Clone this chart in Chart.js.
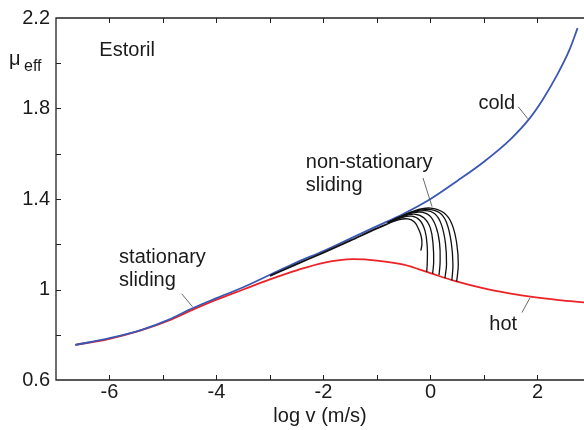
<!DOCTYPE html>
<html>
<head>
<meta charset="utf-8">
<title>Estoril friction</title>
<script src="https://cdn.jsdelivr.net/npm/chart.js@4"></script>
<style>
  html, body { margin: 0; padding: 0; background: #fff; }
  #wrap { width: 584px; height: 430px; }
</style>
</head>
<body>
<div id="wrap"><canvas id="muChart" width="584" height="430"></canvas></div>
<script>
// cold branch (blue)
const coldLogV = [-6.64, -6.0, -5.4, -4.9, -4.45, -4.0, -3.5, -3.0, -2.5, -2.0, -1.5, -1.0, -0.5, 0.0, 0.5, 1.0, 1.5, 1.85, 2.1, 2.36, 2.6, 2.75];
const coldMu   = [0.755, 0.785, 0.822, 0.866, 0.917, 0.962, 1.01, 1.065, 1.12, 1.17, 1.225, 1.28, 1.335, 1.40, 1.48, 1.565, 1.665, 1.755, 1.84, 1.945, 2.06, 2.155];

// hot branch (red)
const hotLogV = [-6.64, -6.0, -5.4, -4.9, -4.45, -4.0, -3.5, -3.0, -2.5, -2.0, -1.45, -1.0, -0.5, 0.0, 0.45, 1.0, 1.5, 1.9, 2.4, 2.87];
const hotMu   = [0.755, 0.782, 0.82, 0.862, 0.91, 0.955, 1.0, 1.045, 1.085, 1.118, 1.134, 1.128, 1.11, 1.072, 1.038, 1.005, 0.982, 0.967, 0.953, 0.943];

// non-stationary runs: shared trunk, then one loop per run
const trunkLogV = [-3.0, -2.5, -2.0, -1.5, -1.0, -0.8];
const trunkMu   = [1.06, 1.112, 1.163, 1.216, 1.27, 1.29];
const loopLogV = [
  [-0.8, -0.6, -0.42, -0.3, -0.22, -0.17, -0.16, -0.18],
  [-0.8, -0.55, -0.35, -0.2, -0.1, -0.06, -0.06, -0.07],
  [-0.8, -0.5, -0.3, -0.12, 0.0, 0.05, 0.06, 0.04],
  [-0.8, -0.45, -0.2, -0.02, 0.1, 0.17, 0.18, 0.16],
  [-0.8, -0.4, -0.1, 0.08, 0.2, 0.28, 0.3, 0.27],
  [-0.8, -0.35, -0.05, 0.17, 0.3, 0.39, 0.42, 0.4],
  [-0.8, -0.3, 0.0, 0.25, 0.4, 0.49, 0.52, 0.49]
];
const loopMu = [
  [1.29, 1.308, 1.312, 1.298, 1.266, 1.232, 1.2, 1.172],
  [1.292, 1.317, 1.324, 1.306, 1.258, 1.185, 1.12, 1.077],
  [1.293, 1.324, 1.333, 1.316, 1.27, 1.195, 1.12, 1.07],
  [1.294, 1.331, 1.342, 1.327, 1.28, 1.205, 1.12, 1.064],
  [1.295, 1.336, 1.349, 1.335, 1.29, 1.205, 1.11, 1.05],
  [1.296, 1.342, 1.354, 1.339, 1.296, 1.205, 1.11, 1.04],
  [1.297, 1.348, 1.36, 1.339, 1.29, 1.205, 1.11, 1.035]
];

// axis ranges and tick values
const xMin = -7, xMax = 2.87;
const yMin = 0.6, yMax = 2.2;
const xTicks = [-7, -6, -5, -4, -3, -2, -1, 0, 1, 2];
const xLabelled = [-6, -4, -2, 0, 2];
const yTicks = [0.6, 0.8, 1.0, 1.2, 1.4, 1.6, 1.8, 2.0, 2.2];
const yLabelled = [0.6, 1, 1.4, 1.8, 2.2];

// text labels and leader lines, in data units
const notes = [
  { text: 'Estoril', x: -5.67, y: 2.058, align: 'center' },
  { text: 'cold', x: 1.24, y: 1.82, align: 'center' },
  { text: 'non-stationary', x: -2.33, y: 1.563, align: 'left' },
  { text: 'sliding', x: -2.33, y: 1.458, align: 'left' },
  { text: 'stationary', x: -5.82, y: 1.143, align: 'left' },
  { text: 'sliding', x: -5.82, y: 1.038, align: 'left' },
  { text: 'hot', x: 1.36, y: 0.845, align: 'center' }
];
const leaders = [
  [[1.64, 1.808], [1.82, 1.755]],
  [[-0.14, 1.493], [0.03, 1.366]],
  [[-4.65, 0.981], [-4.45, 0.924]],
  [[1.86, 0.963], [1.71, 0.898]]
];

const FONT = '"Liberation Sans", Arial, Helvetica, sans-serif';

function pts(xs, ys) {
  return xs.map((x, i) => ({ x: x, y: ys[i] }));
}

const datasets = [];
loopLogV.forEach((xs, i) => {
  datasets.push({ data: pts(xs, loopMu[i]), borderColor: '#111', borderWidth: 1.3, tension: 0.4 });
});
datasets.push({ data: pts(trunkLogV, trunkMu), borderColor: '#111', borderWidth: 1.8, cubicInterpolationMode: 'monotone' });
datasets.push({ data: pts(coldLogV, coldMu), borderColor: '#3a57b4', borderWidth: 1.8, cubicInterpolationMode: 'monotone' });
datasets.push({ data: pts(hotLogV, hotMu), borderColor: '#ec2227', borderWidth: 1.8, cubicInterpolationMode: 'monotone' });
datasets.forEach(d => { d.showLine = true; d.pointRadius = 0; d.fill = false; });

// axes box with inward ticks, plus the text notes
const frame = {
  id: 'frame',
  beforeDatasetsDraw(chart) {
    const { ctx, chartArea: a, scales } = chart;
    ctx.save();
    ctx.strokeStyle = '#222';
    ctx.lineWidth = 1.3;
    ctx.beginPath();
    ctx.moveTo(chart.width, a.top);
    ctx.lineTo(a.left, a.top);
    ctx.lineTo(a.left, a.bottom);
    ctx.lineTo(chart.width, a.bottom);
    ctx.stroke();
    ctx.lineWidth = 1;
    ctx.beginPath();
    xTicks.slice(1).forEach(v => {
      const px = Math.round(scales.x.getPixelForValue(v)) + 0.5;
      ctx.moveTo(px, a.bottom); ctx.lineTo(px, a.bottom - 5);
      ctx.moveTo(px, a.top); ctx.lineTo(px, a.top + 5);
    });
    yTicks.slice(1, -1).forEach(v => {
      const py = Math.round(scales.y.getPixelForValue(v)) + 0.5;
      ctx.moveTo(a.left, py); ctx.lineTo(a.left + 5, py);
    });
    ctx.stroke();
    ctx.restore();
  },
  afterDatasetsDraw(chart) {
    const { ctx, scales } = chart;
    ctx.save();
    ctx.strokeStyle = '#444';
    ctx.lineWidth = 0.8;
    leaders.forEach(l => {
      ctx.beginPath();
      ctx.moveTo(scales.x.getPixelForValue(l[0][0]), scales.y.getPixelForValue(l[0][1]));
      ctx.lineTo(scales.x.getPixelForValue(l[1][0]), scales.y.getPixelForValue(l[1][1]));
      ctx.stroke();
    });
    ctx.fillStyle = '#1a1a1a';
    ctx.font = '20px ' + FONT;
    ctx.textBaseline = 'middle';
    notes.forEach(n => {
      ctx.textAlign = n.align;
      ctx.fillText(n.text, scales.x.getPixelForValue(n.x), scales.y.getPixelForValue(n.y));
    });
    // y axis name: mu with subscript eff
    ctx.textAlign = 'left';
    ctx.textBaseline = 'alphabetic';
    ctx.font = '20px ' + FONT;
    ctx.fillText('μ', 9, 65);
    ctx.font = '16px ' + FONT;
    ctx.fillText('eff', 24, 71);
    ctx.restore();
  }
};

new Chart(document.getElementById('muChart'), {
  type: 'scatter',
  data: { datasets: datasets },
  plugins: [frame],
  options: {
    responsive: false,
    animation: false,
    devicePixelRatio: 1,
    layout: { padding: { top: 14, left: 0, right: 0, bottom: 0 } },
    plugins: { legend: { display: false }, tooltip: { enabled: false } },
    scales: {
      x: {
        type: 'linear',
        min: xMin,
        max: xMax,
        afterBuildTicks(s) { s.ticks = xTicks.map(v => ({ value: v })); },
        afterFit(s) { s.height = 50; },
        grid: { display: false, drawTicks: false },
        border: { display: false },
        ticks: {
          autoSkip: false,
          maxRotation: 0,
          padding: 0,
          color: '#1a1a1a',
          font: { family: FONT, size: 20 },
          callback: v => (xLabelled.includes(v) ? String(v) : '')
        },
        title: {
          display: true,
          text: 'log v (m/s)',
          color: '#1a1a1a',
          font: { family: FONT, size: 20 },
          padding: { top: 0, bottom: 2 }
        }
      },
      y: {
        type: 'linear',
        min: yMin,
        max: yMax,
        afterBuildTicks(s) { s.ticks = yTicks.map(v => ({ value: v })); },
        afterFit(s) { s.width = 56; },
        grid: { display: false, drawTicks: false },
        border: { display: false },
        ticks: {
          autoSkip: false,
          padding: 6,
          color: '#1a1a1a',
          font: { family: FONT, size: 20 },
          callback: v => {
            const r = Math.round(v * 10) / 10;
            return yLabelled.includes(r) ? String(r) : '';
          }
        }
      }
    }
  }
});
</script>
</body>
</html>
